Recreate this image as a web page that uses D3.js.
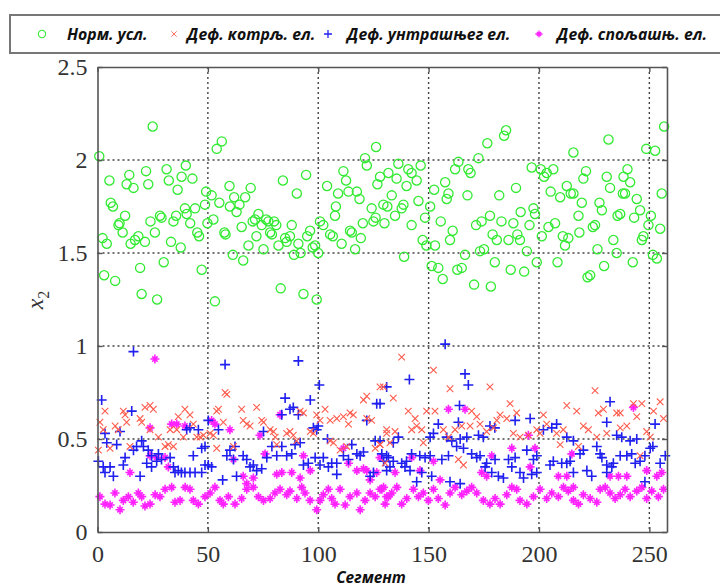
<!DOCTYPE html>
<html>
<head>
<meta charset="utf-8">
<script src="https://cdn.jsdelivr.net/npm/d3@7"></script>
<style>
  body { margin: 0; background: #fff; }
  svg { display: block; }
</style>
</head>
<body>
<div id="chart"></div>
<script>
// [segment, x2] pairs
const normal = [
  [0.8,2.02],[5.4,1.89],[2.3,1.58],[4.2,1.55],[3,1.38],[8,1.35],[6,1.77],[7,1.75],[9.5,1.65],[10,1.66],[11.4,1.61],[12.5,1.70],[13.2,1.87],[14.4,1.92],[16.3,1.85],[15,1.55],[17,1.57],[18.5,1.59],[19.3,1.42],[20,1.28],[21.5,1.56],[22,1.94],[23,1.87],[24,1.67],[25,2.18],[26,1.61],[27,1.25],[28.3,1.70],[29,1.69],[30,1.45],[31.3,1.95],[32.3,1.89],[33.3,1.56],[34.4,1.67],[35.6,1.70],[36.3,1.84],[37.7,1.53],[38.1,1.91],[40,1.97],[39.6,1.74],[40.4,1.71],[42,1.66],[43,1.90],[44.2,1.74],[45.2,1.61],[46,1.59],[47.2,1.41],[48.7,1.76],[49.2,1.83],[49.8,1.66],
  [51.7,1.81],[52.5,1.68],[53.2,1.24],[54,2.06],[56.3,2.10],[55.2,1.77],[57.5,1.61],[58,1.60],[59.8,1.86],[60,1.75],[61.3,1.49],[61.9,1.80],[63,1.72],[64.3,1.76],[65.3,1.64],[66,1.46],[66.9,1.80],[68.4,1.54],[69.4,1.85],[70.3,1.67],[71.4,1.68],[72.9,1.71],[72,1.59],[74.4,1.65],[75.2,1.52],[76.4,1.68],[77.4,1.67],[78.2,1.61],[79,1.60],[80,1.67],[81,1.65],[82,1.54],[83,1.31],[84,1.89],[85,1.58],[85.7,1.56],[87.2,1.59],[88,1.65],[89,1.49],[90.3,1.82],[91,1.55],[92,1.50],[93.3,1.28],[94.5,1.92],[95,1.59],[96.3,1.62],[97.5,1.53],[98.6,1.54],[99.3,1.25],[100,1.50],
  [100.8,1.67],[102.3,1.65],[104,1.86],[105.4,1.60],[106.6,1.59],[108,1.75],[107.6,1.70],[109,1.82],[110.6,1.55],[111.4,1.94],[112.6,1.89],[113.7,1.83],[114.4,1.62],[115.2,1.61],[116.7,1.52],[117.5,1.83],[118.7,1.79],[119.3,1.58],[120.2,1.66],[121.2,2.01],[122,1.97],[124.2,1.74],[125,1.67],[126,1.69],[126.2,2.07],[126.8,1.87],[128,1.91],[129.5,1.76],[130,1.66],[131.3,1.75],[131.8,1.93],[135.5,1.90],[136.3,1.98],[140,1.86],[140.8,1.95],[142.3,1.93],[144.6,1.89],[146.4,1.97],[145.4,1.78],[133.3,1.81],[138.6,1.76],[137.8,1.74],[134.8,1.70],[142.3,1.65],[148.4,1.69],[150.7,1.75],[147.3,1.57],[149,1.54],[138.9,1.48],
  [151.4,1.43],[154.4,1.42],[152.9,1.54],[155.5,1.67],[152.5,1.84],[157.5,1.88],[159,1.82],[158.2,1.79],[156.4,1.36],[159.7,1.57],[160.9,1.62],[162,1.95],[163.5,1.99],[163,1.41],[165,1.42],[166.5,1.49],[167.6,1.81],[168,1.95],[169,1.93],[170.6,1.33],[171.5,1.65],[172.6,2.01],[173.3,1.51],[175.1,1.52],[174,1.67],[176.6,2.09],[177.8,1.70],[179,1.60],[180.9,1.57],[178.2,1.32],[180,1.45],[182,1.81],[183,1.67],[184.2,2.13],[185.1,2.16],[186.2,1.57],[187.2,1.41],[188.4,1.66],[189.6,1.85],[190.2,1.60],[191.4,1.57],[191.7,1.72],[193.3,1.40],[194.5,1.51],[195.7,1.65],[196.7,1.96],[197.5,1.74],[198.2,1.71],[199,1.45],
  [200.8,1.95],[202.3,1.91],[203.5,1.93],[201.3,1.59],[204.3,1.64],[205.3,1.83],[206.5,1.95],[207.3,1.66],[208.4,1.45],[209.6,1.80],[210.8,1.59],[211.8,1.54],[213.3,1.58],[212.6,1.86],[214.4,1.82],[215.6,1.82],[215.6,2.04],[217.9,1.70],[218.3,1.61],[219.4,1.77],[220.1,1.90],[221.3,1.94],[222,1.37],[223.2,1.38],[224.4,1.64],[225.4,1.65],[226.5,1.52],[227.4,1.77],[228.5,1.73],[229.5,1.43],[230.7,1.91],[232.2,1.85],[231.5,2.11],[233.7,1.57],[235.2,1.50],[235.6,1.70],[236.8,1.71],[238,1.82],[239,1.82],[238.3,1.91],[240.1,1.95],[241.3,1.88],[242.5,1.45],[243.1,1.69],[244.3,1.79],[245.8,1.73],[246.6,1.57],[247.3,1.59],[248.6,2.06],[249.6,1.65],[250.7,1.70],[251.6,1.49],[253.4,1.47],[252.6,2.05],[254.9,1.63],[255.6,1.82],[256.7,2.18]
];

const rolling = [
  [3.4,0.65],[1.1,0.59],[2.6,0.55],[0.4,0.44],[5.7,0.45],[8,0.57],[9.4,0.55],[11.7,0.65],[12.5,0.63],[13.2,0.59],[14.7,0.46],[19.3,0.61],[20,0.59],[21.5,0.67],[23.8,0.68],[25.3,0.66],[23.8,0.55],[27.6,0.51],[30.6,0.46],[32.1,0.47],[34.4,0.46],[32.9,0.55],[36.6,0.62],[39.6,0.66],[41.9,0.63],[35.9,0.55],[38.9,0.51],[43.4,0.58],[45,0.51],[46.5,0.51],[48,0.52],[54,0.65],[54.8,0.66],[51,0.53],[52.5,0.52],[54,0.45],[57.8,0.75],[58.6,0.74],[57,0.59],[61.6,0.46],[65.3,0.66],[66,0.60],[67.6,0.58],[69.1,0.57],[72.1,0.67],[74.4,0.60],[75.2,0.59],[78.2,0.55],[79.7,0.54],[80.5,0.51],[81.2,0.47],
  [85.7,0.53],[87.2,0.54],[88.7,0.52],[90.2,0.49],[91.8,0.65],[93.3,0.64],[96.4,0.54],[97.8,0.53],[99.3,0.63],[100.8,0.60],[103.1,0.66],[105.4,0.60],[108.4,0.61],[111.4,0.62],[114.4,0.64],[115.9,0.63],[113.7,0.58],[105.4,0.49],[106.9,0.48],[109.9,0.44],[112.9,0.46],[120.5,0.71],[122,0.73],[122,0.61],[124.2,0.60],[125.8,0.45],[128,0.47],[129.5,0.78],[131,0.53],
  [137.8,0.94],[152.2,0.87],[128,0.78],[134,0.72],[159.7,0.77],[177.8,0.78],[186.9,0.69],[225.4,0.76],[254.9,0.70],[140.8,0.65],[143.9,0.61],[149.1,0.65],[152.9,0.65],[169.5,0.65],[171.8,0.62],[173.3,0.58],[180.9,0.60],[182.4,0.63],[185.4,0.61],[189.9,0.64],[202,0.63],[203.5,0.58],[212.6,0.68],[217.1,0.65],[226.9,0.64],[229.2,0.66],[235.2,0.64],[236.8,0.64],[242.8,0.69],[244.3,0.62],[246.6,0.69],[251.9,0.65],[256.4,0.61],
  [131,0.55],[134.8,0.54],[142.3,0.55],[144.6,0.57],[146.9,0.55],[156.7,0.55],[159,0.51],[162,0.55],[165,0.57],[168.8,0.57],[176.3,0.54],[179.4,0.56],[188.4,0.53],[191.4,0.51],[195.2,0.52],[199,0.55],[200.5,0.53],[208,0.53],[211,0.55],[220.1,0.57],[222.4,0.55],[226.2,0.51],[230.7,0.53],[236.8,0.56],[239.8,0.57],[248.8,0.54],[250.4,0.51],[128,0.47],[132.5,0.48],[147.6,0.48],[209.6,0.47],[217.9,0.46],[130.3,0.37],[163.5,0.39],[165.8,0.36],[245.8,0.41]
];

const inner = [
  [16.3,0.97],[1.9,0.71],[15.5,0.65],[3.4,0.53],[10.2,0.54],[4.2,0.48],[8.7,0.47],[0.4,0.38],[2.6,0.35],[5.7,0.35],[3.4,0.32],[7.2,0.30],[11.7,0.36],[12.5,0.40],[16.3,0.44],[17.7,0.46],[20,0.49],[19.3,0.30],[20.8,0.46],[23,0.44],[24.5,0.41],[27.6,0.42],[26.8,0.38],[29,0.39],[22.3,0.37],[24.5,0.35],[32.9,0.40],[34.4,0.35],[35.1,0.32],[36.6,0.33],[38,0.32],[39.6,0.32],[41.9,0.32],[44.2,0.32],[40.4,0.55],[41.9,0.56],[45.7,0.55],[43.4,0.41],[47.2,0.45],[48.7,0.46],[48.7,0.36],[50.2,0.36],[51.7,0.35],[50.2,0.60],[47.2,0.32],
  [56.7,0.28],[54.8,0.55],[57.8,0.90],[58.6,0.41],[60,0.44],[62.3,0.46],[61.6,0.39],[63,0.30],[66,0.41],[67.6,0.39],[69.1,0.35],[70.6,0.36],[72.1,0.33],[74.4,0.34],[75.2,0.54],[76.7,0.40],[79,0.46],[81.2,0.41],[83.5,0.46],[83.5,0.63],[85,0.72],[87.2,0.66],[88.7,0.67],[91,0.92],[91,0.63],[85.7,0.41],[88,0.42],[89.5,0.47],[91.8,0.48],[93.3,0.36],[95.5,0.37],[96.4,0.71],[97.8,0.56],[99.3,0.55],[100,0.57],[100.5,0.79],[98.6,0.40],[100.8,0.36],
  [102.3,0.40],[104.6,0.35],[104.2,0.50],[106.1,0.37],[108.4,0.37],[108.4,0.31],[111.4,0.41],[113.7,0.39],[115.2,0.47],[117.5,0.42],[119,0.41],[120.5,0.43],[122,0.60],[123.5,0.30],[125,0.32],[125.8,0.49],[128,0.49],[126.5,0.69],[129.6,0.38],[131.8,0.40],[131,0.78],
  [157.5,1.01],[141.3,0.82],[166.5,0.85],[168,0.79],[164,0.68],[128,0.69],[163.5,0.59],[154.4,0.58],[177.8,0.57],[180,0.56],[189.2,0.60],[196,0.61],[208,0.58],[205.8,0.56],[202,0.55],[232.2,0.70],[230.7,0.59],[252.6,0.58],[136.3,0.51],[134,0.48],[150.7,0.51],[152.2,0.53],[158.2,0.51],[160.5,0.49],[164.3,0.50],[167.3,0.51],[172.6,0.52],[174.8,0.51],[212.6,0.51],[215.6,0.49],[235.2,0.52],[237.5,0.51],[241.3,0.49],[244.3,0.50],[250.4,0.45],[251.6,0.46],[257.2,0.41],
  [128.8,0.42],[131,0.41],[134,0.38],[137.8,0.37],[140,0.38],[142.3,0.42],[146,0.41],[148.4,0.40],[150.7,0.41],[156,0.39],[159,0.41],[162.7,0.46],[165.8,0.45],[169.5,0.42],[171.8,0.40],[173.3,0.41],[176.3,0.37],[180.1,0.39],[186.2,0.39],[189.2,0.40],[194.5,0.44],[197.5,0.39],[199,0.41],[205,0.36],[206.5,0.38],[210.3,0.37],[214.1,0.38],[218.6,0.42],[220.1,0.44],[226.2,0.46],[227.7,0.42],[228.5,0.40],[230.7,0.36],[233.7,0.37],[236.8,0.41],[239.8,0.41],[242,0.42],[243.6,0.37],[245.8,0.38],[248,0.41],[254.9,0.37],
  [132.5,0.35],[131,0.33],[139.3,0.35],[141.6,0.33],[146.9,0.32],[151.4,0.30],[144.6,0.27],[159.7,0.27],[164.3,0.26],[175.6,0.35],[178.6,0.32],[181.6,0.30],[183.9,0.29],[187.7,0.35],[191.4,0.32],[193,0.29],[196.7,0.31],[199,0.32],[212.6,0.37],[215.6,0.32],[221.7,0.33],[223.9,0.30],[230.7,0.32],[233,0.35],[248,0.27]
];

const outer = [
  [26,0.93],[23.8,0.56],[33.6,0.58],[35.9,0.58],[39.6,0.57],[51.7,0.60],[53.2,0.58],[60,0.55],[73.6,0.52],[82.7,0.63],[14.7,0.32],[23.8,0.41],[26.8,0.40],[30.6,0.40],[32.1,0.35],[61.6,0.39],[66,0.30],[67.6,0.26],[70.6,0.29],[75.9,0.42],[81.2,0.31],[83.5,0.32],[88,0.32],[91.8,0.29],[93.3,0.41],[96.4,0.33],[111.4,0.45],[113.7,0.37],[117.5,0.33],[120.5,0.34],[122,0.33],[123.5,0.28],[126.5,0.32],[129.6,0.24],
  [1.1,0.19],[3.4,0.15],[5.7,0.145],[7.9,0.21],[10.2,0.12],[11.7,0.17],[14,0.19],[16.2,0.16],[18.5,0.21],[20,0.19],[21.5,0.14],[23.8,0.15],[26.1,0.20],[28.3,0.19],[30.6,0.23],[33.6,0.24],[35.1,0.16],[37.4,0.17],[39.7,0.24],[41.9,0.23],[43.4,0.17],[45.7,0.15],[48.7,0.19],[51,0.21],[53.2,0.24],[55.5,0.17],[57,0.15],[59.3,0.19],[62.3,0.15],[65.3,0.18],[67.6,0.23],[70.6,0.24],[72.9,0.19],[75.2,0.17],[78.2,0.18],[80.4,0.21],[82.7,0.23],[85.7,0.20],[87.2,0.22],[90.3,0.18],[92.5,0.24],[94,0.21],[96.3,0.17],[99.3,0.12],[100.8,0.17],[102.3,0.20],[104.6,0.23],[106.1,0.18],[107.6,0.15],[109.9,0.23],[112.2,0.145],[114.4,0.19],[117.5,0.21],[119,0.12],[121.2,0.17],[123.5,0.21],[125.8,0.19],[128,0.23],[130.3,0.15],[131.8,0.19],
  [159,0.66],[166.5,0.66],[242.8,0.67],[195.2,0.52],[187.7,0.45],[198.2,0.45],[178.6,0.41],[214.9,0.42],[142.3,0.40],[152.2,0.38],[128,0.40],[134.8,0.32],[146.1,0.33],[155.2,0.28],[174,0.32],[176.3,0.30],[196,0.35],[208.8,0.30],[212.6,0.30],[215.6,0.24],[232.2,0.30],[236,0.30],[239.8,0.30],[248.8,0.33],[253.4,0.30],[255.6,0.32],
  [128.8,0.23],[131,0.19],[133.3,0.21],[135.6,0.24],[137.8,0.15],[140.1,0.18],[143.1,0.23],[145.4,0.19],[147.6,0.21],[149.9,0.17],[152.2,0.23],[154.4,0.18],[157.5,0.145],[159.7,0.21],[162,0.24],[165,0.20],[167.3,0.22],[169.5,0.24],[171.8,0.21],[174.8,0.17],[177.8,0.15],[180.1,0.18],[182.4,0.15],[185.4,0.20],[187.7,0.24],[189.9,0.23],[191.4,0.17],[194.5,0.15],[197.5,0.19],[200.5,0.23],[203.5,0.18],[205.8,0.21],[208.8,0.19],[211.1,0.24],[213.3,0.22],[215.6,0.17],[217.9,0.15],[220.1,0.20],[223.2,0.18],[226.2,0.16],[227.7,0.23],[230,0.24],[232.2,0.21],[234.5,0.18],[236.8,0.20],[239,0.23],[241.3,0.19],[244.3,0.22],[246.6,0.24],[248.8,0.18],[251.1,0.22],[254.1,0.19],[256.4,0.23]
];

const xTicks = [0, 50, 100, 150, 200, 250];
const yTicks = [0, 0.5, 1, 1.5, 2, 2.5];
const legendLabels = ["Норм. усл.", "Деф. котрљ. ел.", "Деф. унтрашњег ел.", "Деф. спољашњ. ел."];

var W = 720, H = 587;
var plot = { left: 97.5, right: 667, top: 67, bottom: 532 };

var svg = d3.select("#chart").append("svg")
  .attr("width", W)
  .attr("height", H);

var x = d3.scaleLinear().domain([0, 258]).range([plot.left, plot.right]);
var y = d3.scaleLinear().domain([0, 2.5]).range([plot.bottom, plot.top]);

// marker shapes
function crossPath(h) { return "M" + (-h) + "," + (-h) + "L" + h + "," + h + "M" + (-h) + "," + h + "L" + h + "," + (-h); }
function plusPath(h) { return "M" + (-h) + ",0L" + h + ",0M0," + (-h) + "L0," + h; }
function starPath(h) { var d = h * 0.6; return plusPath(h) + crossPath(d); }

var styles = [
  { draw: function(g) { g.append("circle").attr("r", 4.6).attr("fill", "none").attr("stroke", "#33ea33").attr("stroke-width", 1.3); } },
  { draw: function(g) { g.append("path").attr("d", crossPath(3.3)).attr("stroke", "#ff5c4d").attr("stroke-width", 1.1); } },
  { draw: function(g) { g.append("path").attr("d", plusPath(5)).attr("stroke", "#1f1fef").attr("stroke-width", 1.6); } },
  { draw: function(g) { g.append("path").attr("d", starPath(4.5)).attr("stroke", "#ff22ff").attr("stroke-width", 1.6); } }
];

// grid
var grid = svg.append("g").attr("stroke", "#444").attr("stroke-width", 1.4).attr("stroke-dasharray", "2,3");
grid.selectAll("line.gx").data(xTicks.filter(function(d) { return d > 0; })).enter().append("line")
  .attr("x1", function(d) { return x(d); }).attr("x2", function(d) { return x(d); })
  .attr("y1", plot.top).attr("y2", plot.bottom);
grid.selectAll("line.gy").data(yTicks.filter(function(d) { return d > 0 && d < 2.5; })).enter().append("line")
  .attr("y1", function(d) { return y(d); }).attr("y2", function(d) { return y(d); })
  .attr("x1", plot.left).attr("x2", plot.right);

// series
[outer, inner, rolling, normal].forEach(function(series, k) {
  var st = styles[3 - k];
  svg.append("g").selectAll("g").data(series).enter().append("g")
    .attr("transform", function(d) { return "translate(" + x(d[0]) + "," + y(d[1]) + ")"; })
    .each(function() { st.draw(d3.select(this)); });
});

// axes with inward ticks, box
var xAxis = d3.axisBottom(x).tickValues(xTicks).tickSizeInner(-5).tickSizeOuter(0).tickPadding(12);
var yAxis = d3.axisLeft(y).tickValues(yTicks).tickSizeInner(-5).tickSizeOuter(0).tickPadding(10).tickFormat(d3.format("~g"));
var gx = svg.append("g").attr("transform", "translate(0," + plot.bottom + ")").call(xAxis);
var gy = svg.append("g").attr("transform", "translate(" + plot.left + ",0)").call(yAxis);
svg.append("g").attr("transform", "translate(0," + plot.top + ")")
  .call(d3.axisTop(x).tickValues(xTicks).tickSizeInner(-5).tickSizeOuter(0).tickFormat(""));
svg.append("g").attr("transform", "translate(" + plot.right + ",0)")
  .call(d3.axisRight(y).tickValues(yTicks).tickSizeInner(-5).tickSizeOuter(0).tickFormat(""));
svg.selectAll(".domain").attr("stroke", "#555").attr("stroke-width", 1.6);
svg.selectAll(".tick line").attr("stroke", "#555").attr("stroke-width", 1.4);
[gx, gy].forEach(function(g) {
  g.attr("font-family", "Liberation Serif").attr("font-size", 24);
  g.selectAll(".tick text").attr("fill", "#333");
});
gx.selectAll(".tick text").attr("dy", "0.75em");

// axis titles
svg.append("text")
  .attr("transform", "translate(43,300) rotate(-90)")
  .attr("text-anchor", "middle")
  .attr("font-family", "Liberation Serif")
  .attr("font-style", "italic")
  .attr("font-size", 24)
  .attr("fill", "#333")
  .html('x<tspan font-size="16" dy="6" font-style="normal">2</tspan>');

svg.append("text")
  .attr("x", 371).attr("y", 583)
  .attr("text-anchor", "middle")
  .attr("font-family", "'Open Sans', sans-serif")
  .attr("font-style", "italic").attr("font-weight", "bold")
  .attr("font-size", 15.5)
  .attr("fill", "#111")
  .text("Сегмент");

// legend
var legend = svg.append("g");
legend.append("rect")
  .attr("x", 10).attr("y", 15).attr("width", 730).attr("height", 38)
  .attr("fill", "#fff").attr("stroke", "#777").attr("stroke-width", 2);
var markerX = [42, 174, 328, 539];
var textX = [67, 187, 347, 557];
legendLabels.forEach(function(lbl, i) {
  var g = legend.append("g").attr("transform", "translate(" + markerX[i] + ",34)");
  styles[i].draw(g);
  g.selectAll("*").attr("transform", "scale(0.8)");
  legend.append("text")
    .attr("x", textX[i]).attr("y", 39.5)
    .attr("font-family", "'Open Sans', sans-serif")
    .attr("font-style", "italic").attr("font-weight", "bold")
    .attr("font-size", 15.8)
    .attr("fill", "#111")
    .text(lbl);
});
</script>
</body>
</html>
